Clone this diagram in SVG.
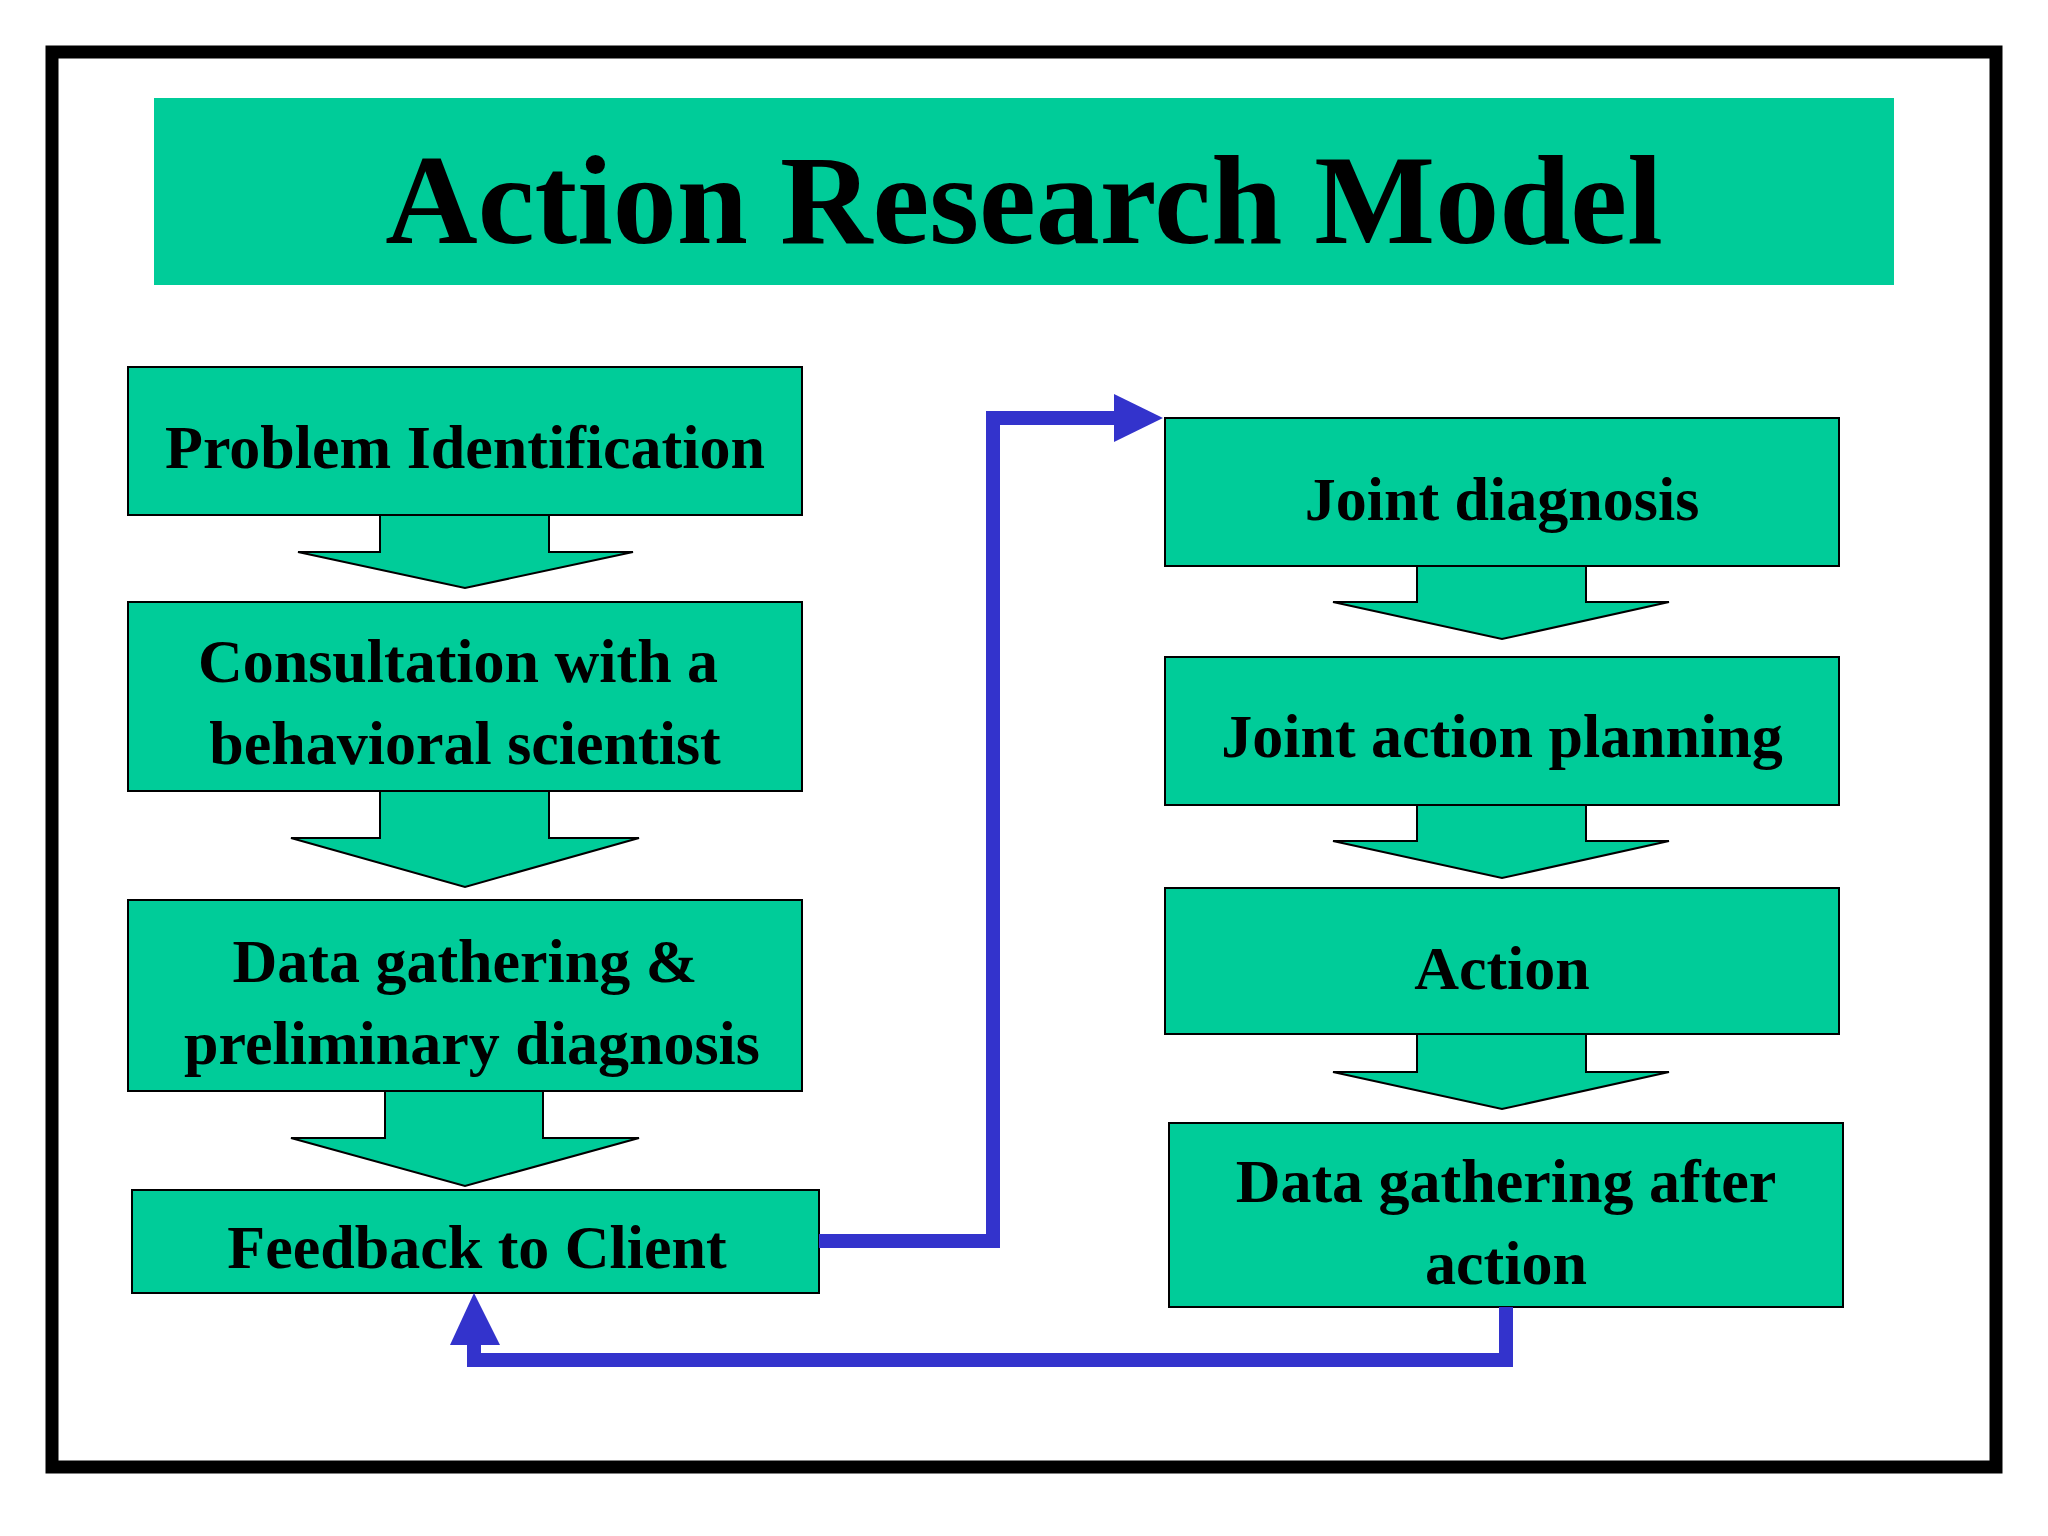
<svg xmlns="http://www.w3.org/2000/svg" width="2048" height="1536" viewBox="0 0 2048 1536">
<style>
.box{fill:#00CC99;stroke:#000;stroke-width:2}
.t{font-family:"Liberation Serif","Times New Roman",serif;font-weight:bold;font-size:62px;fill:#000;text-anchor:middle}
.c{fill:none;stroke:#3333CC;stroke-width:14}
.ah{fill:#3333CC}
</style>
<rect x="0" y="0" width="2048" height="1536" fill="#fff"/>
<rect x="52" y="52" width="1944" height="1415" fill="none" stroke="#000" stroke-width="13"/>
<g id="title"><rect x="154" y="98" width="1740" height="187" fill="#00CC99"/><text x="1024" y="243" class="t" style="font-size:128px">Action Research Model</text></g>
<g id="n1"><rect class="box" x="128" y="367" width="674" height="148"/><text class="t" x="465" y="468">Problem Identification</text></g>
<g id="a1"><polygon class="box" points="380,515 549,515 549,552 633,552 465,588 298,552 380,552"/></g>
<g id="n2"><rect class="box" x="128" y="602" width="674" height="189"/><text class="t" x="458" y="682">Consultation with a</text><text class="t" x="465" y="764">behavioral scientist</text></g>
<g id="a2"><polygon class="box" points="380,791 549,791 549,838 639,838 465,887 291,838 380,838"/></g>
<g id="n3"><rect class="box" x="128" y="900" width="674" height="191"/><text class="t" x="465" y="982">Data gathering &amp;</text><text class="t" x="472" y="1064">preliminary diagnosis</text></g>
<g id="a3"><polygon class="box" points="385,1091 543,1091 543,1138 639,1138 465,1186 291,1138 385,1138"/></g>
<g id="n4"><rect class="box" x="132" y="1190" width="687" height="103"/><text class="t" x="477" y="1268">Feedback to Client</text></g>
<g id="r1"><rect class="box" x="1165" y="418" width="674" height="148"/><text class="t" x="1502" y="520">Joint diagnosis</text></g>
<g id="ra1"><polygon class="box" points="1417,566 1586,566 1586,602 1669,602 1502,639 1333,602 1417,602"/></g>
<g id="r2"><rect class="box" x="1165" y="657" width="674" height="148"/><text class="t" x="1502" y="757">Joint action planning</text></g>
<g id="ra2"><polygon class="box" points="1417,805 1586,805 1586,841 1669,841 1502,878 1333,841 1417,841"/></g>
<g id="r3"><rect class="box" x="1165" y="888" width="674" height="146"/><text class="t" x="1502" y="989">Action</text></g>
<g id="ra3"><polygon class="box" points="1417,1034 1586,1034 1586,1072 1669,1072 1502,1109 1333,1072 1417,1072"/></g>
<g id="r4"><rect class="box" x="1169" y="1123" width="674" height="184"/><text class="t" x="1506" y="1202">Data gathering after</text><text class="t" x="1506" y="1284">action</text></g>
<g id="connectors">
<polyline class="c" points="819,1241 993,1241 993,418 1120,418"/>
<polygon class="ah" points="1114,394 1163,418 1114,442"/>
<polyline class="c" points="1506,1307 1506,1360 474,1360 474,1340"/>
<polygon class="ah" points="450,1345 474,1293 500,1345"/>
</g>
</svg>
